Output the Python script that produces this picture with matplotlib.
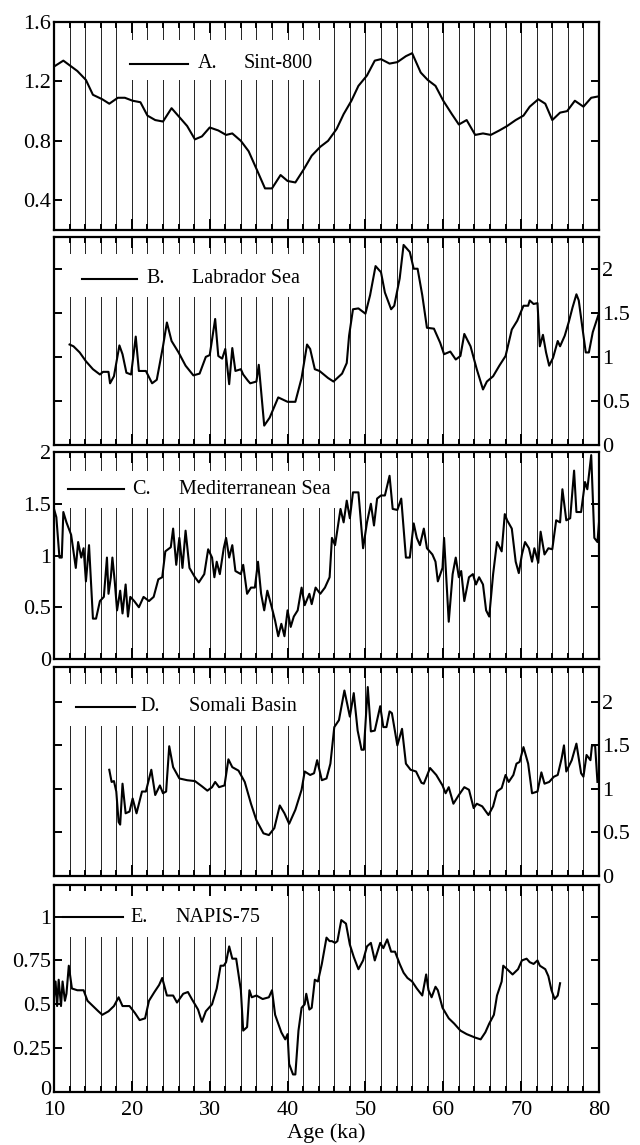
import numpy as np
import matplotlib.pyplot as plt
from matplotlib.patches import Rectangle
from matplotlib.ticker import MultipleLocator, FixedLocator, FormatStrFormatter
from matplotlib.transforms import ScaledTranslation

plt.rcParams['font.family'] = ['Liberation Serif', 'DejaVu Serif']
plt.rcParams['font.size'] = 14

# A. Sint-800
sint_age = [10.0, 11.2, 13.0, 14.1, 15.0, 16.2, 17.1, 18.2, 19.1, 20.1,
            21.1, 22.0, 23.0, 24.0, 25.1, 26.1, 27.1, 28.1, 29.0, 30.0,
            31.1, 32.1, 32.9, 34.0, 35.0, 36.1, 37.1, 38.0, 39.1, 40.0,
            41.0, 42.1, 43.1, 44.2, 45.2, 46.3, 47.2, 48.2, 49.1, 50.2,
            51.2, 52.0, 53.1, 54.1, 55.2, 56.0, 57.1, 58.0, 59.0, 60.0,
            61.1, 62.0, 63.0, 64.1, 65.1, 66.1, 67.2, 68.2, 69.3, 70.3,
            71.1, 72.2, 73.1, 74.0, 75.0, 75.9, 76.9, 78.0, 79.0, 80.0]
sint_val = [1.30, 1.34, 1.27, 1.21, 1.11, 1.08, 1.05, 1.09, 1.09, 1.07,
            1.06, 0.97, 0.94, 0.93, 1.02, 0.96, 0.90, 0.81, 0.83, 0.89,
            0.87, 0.84, 0.85, 0.80, 0.73, 0.60, 0.48, 0.48, 0.57, 0.53,
            0.52, 0.61, 0.70, 0.76, 0.80, 0.88, 0.98, 1.07, 1.17, 1.24,
            1.34, 1.35, 1.32, 1.33, 1.37, 1.39, 1.26, 1.21, 1.17, 1.07,
            0.98, 0.91, 0.94, 0.84, 0.85, 0.84, 0.87, 0.90, 0.94, 0.97,
            1.03, 1.08, 1.05, 0.94, 0.99, 1.00, 1.07, 1.03, 1.09, 1.10]

# B. Labrador Sea
lab_age = [12.0, 12.5, 13.3, 14.1, 15.0, 15.9, 16.3, 17.0, 17.2, 17.7,
           18.4, 18.8, 19.3, 19.9, 20.5, 20.9, 21.8, 22.6, 23.2, 24.0,
           24.5, 25.1, 26.0, 26.9, 27.9, 28.7, 29.5, 30.0, 30.7, 31.1,
           31.6, 32.0, 32.5, 32.9, 33.3, 34.0, 34.3, 34.9, 35.2, 36.0,
           36.3, 37.0, 37.7, 38.8, 40.0, 41.0, 41.8, 42.5, 42.9, 43.5,
           44.1, 45.2, 45.9, 47.0, 47.6, 47.9, 48.4, 49.1, 50.0, 50.6,
           51.3, 52.0, 52.5, 53.3, 53.7, 54.4, 54.9, 55.7, 56.2, 56.7,
           57.3, 57.9, 58.8, 59.6, 60.1, 60.9, 61.6, 62.2, 62.7, 63.5,
           64.3, 65.1, 65.6, 66.4, 67.2, 68.0, 68.8, 69.5, 70.3, 70.9,
           71.1, 71.6, 72.1, 72.4, 72.8, 73.2, 73.6, 74.1, 74.7, 75.0,
           75.6, 76.1, 76.6, 77.1, 77.4, 77.9, 78.3, 78.7, 79.2, 79.9]
lab_val = [1.14, 1.12, 1.05, 0.95, 0.86, 0.80, 0.83, 0.83, 0.70, 0.78,
           1.13, 1.03, 0.82, 0.80, 1.23, 0.84, 0.84, 0.70, 0.74, 1.12,
           1.39, 1.18, 1.05, 0.90, 0.79, 0.81, 1.00, 1.02, 1.43, 1.01,
           0.98, 1.09, 0.69, 1.10, 0.84, 0.86, 0.80, 0.73, 0.70, 0.72,
           0.91, 0.22, 0.31, 0.54, 0.49, 0.49, 0.76, 1.14, 1.09, 0.86,
           0.84, 0.76, 0.72, 0.81, 0.93, 1.24, 1.54, 1.55, 1.49, 1.70,
           2.03, 1.96, 1.73, 1.54, 1.58, 1.89, 2.27, 2.19, 2.00, 2.00,
           1.70, 1.33, 1.32, 1.16, 1.03, 1.06, 0.97, 1.01, 1.26, 1.12,
           0.86, 0.63, 0.72, 0.78, 0.90, 1.01, 1.31, 1.41, 1.58, 1.58,
           1.64, 1.60, 1.61, 1.12, 1.25, 1.05, 0.90, 0.99, 1.18, 1.12,
           1.24, 1.39, 1.56, 1.71, 1.64, 1.31, 1.05, 1.05, 1.28, 1.47]

# C. Mediterranean Sea
med_age = [10.0, 10.3, 10.7, 11.0, 11.2, 11.6, 11.9, 12.2, 12.5, 12.8,
           13.1, 13.5, 13.8, 14.1, 14.5, 14.7, 15.0, 15.4, 15.9, 16.4,
           16.8, 17.0, 17.3, 17.5, 17.8, 18.1, 18.5, 18.8, 19.2, 19.5,
           19.8, 20.3, 20.9, 21.5, 22.2, 22.8, 23.4, 23.9, 24.3, 25.0,
           25.3, 25.7, 26.1, 26.5, 26.9, 27.4, 28.1, 28.6, 29.3, 29.8,
           30.3, 30.6, 30.9, 31.3, 31.8, 32.1, 32.5, 32.9, 33.3, 34.0,
           34.3, 34.8, 35.3, 35.8, 36.2, 36.6, 37.0, 37.4, 37.9, 38.4,
           38.8, 39.2, 39.6, 40.0, 40.4, 40.8, 41.3, 41.8, 42.2, 42.8,
           43.1, 43.6, 44.2, 44.8, 45.4, 45.7, 46.1, 46.8, 47.2, 47.6,
           48.0, 48.4, 49.1, 49.7, 50.2, 50.7, 51.1, 51.5, 52.0, 52.5,
           53.1, 53.5, 54.1, 54.6, 55.2, 55.7, 56.2, 56.6, 57.0, 57.5,
           57.9, 58.6, 59.0, 59.3, 59.9, 60.1, 60.7, 61.2, 61.6, 62.0,
           62.3, 62.7, 63.3, 63.8, 64.2, 64.6, 65.1, 65.5, 65.9, 66.4,
           66.9, 67.5, 67.9, 68.2, 68.8, 69.3, 69.7, 70.1, 70.5, 71.0,
           71.4, 71.7, 72.2, 72.5, 73.0, 73.5, 74.0, 74.5, 75.0, 75.3,
           75.8, 76.3, 76.8, 77.1, 77.7, 78.2, 78.5, 79.0, 79.4, 79.8,
           80.0]
med_val = [1.45, 1.37, 0.98, 0.98, 1.42, 1.32, 1.26, 1.20, 1.04, 0.88,
           1.13, 0.98, 1.07, 0.75, 1.10, 0.82, 0.39, 0.39, 0.56, 0.60,
           0.98, 0.63, 0.79, 0.98, 0.75, 0.47, 0.66, 0.44, 0.72, 0.41,
           0.60, 0.56, 0.50, 0.60, 0.56, 0.60, 0.77, 0.79, 1.04, 1.08,
           1.26, 0.91, 1.17, 0.88, 1.24, 0.88, 0.79, 0.74, 0.82, 1.06,
           0.98, 0.79, 0.94, 0.82, 1.07, 1.17, 0.98, 1.10, 0.85, 0.82,
           0.91, 0.63, 0.69, 0.69, 0.94, 0.63, 0.47, 0.66, 0.52, 0.37,
           0.22, 0.34, 0.22, 0.47, 0.31, 0.41, 0.47, 0.69, 0.52, 0.63,
           0.53, 0.69, 0.63, 0.69, 0.79, 1.17, 1.10, 1.45, 1.32, 1.53,
           1.36, 1.61, 1.61, 1.07, 1.32, 1.50, 1.29, 1.55, 1.58, 1.58,
           1.77, 1.45, 1.44, 1.55, 0.98, 0.98, 1.31, 1.17, 1.10, 1.26,
           1.07, 1.01, 0.94, 0.75, 0.88, 1.17, 0.36, 0.82, 0.98, 0.79,
           0.85, 0.56, 0.79, 0.82, 0.72, 0.79, 0.72, 0.47, 0.41, 0.82,
           1.13, 1.04, 1.40, 1.34, 1.26, 0.94, 0.83, 1.01, 1.13, 1.07,
           0.94, 1.07, 0.93, 1.23, 1.01, 1.07, 1.06, 1.34, 1.32, 1.64,
           1.34, 1.36, 1.82, 1.42, 1.42, 1.71, 1.64, 1.97, 1.17, 1.13,
           1.32]

# D. Somali Basin
som_age = [17.1, 17.4, 17.7, 18.0, 18.3, 18.5, 18.8, 19.2, 19.7, 20.1,
           20.6, 21.3, 21.8, 22.5, 23.0, 23.6, 24.0, 24.4, 24.8, 25.3,
           26.1, 27.1, 28.1, 29.0, 29.7, 30.3, 30.7, 31.2, 31.9, 32.4,
           32.9, 33.7, 34.5, 35.3, 36.0, 36.9, 37.6, 38.3, 39.0, 39.6,
           40.2, 41.0, 41.8, 42.2, 42.9, 43.4, 43.8, 44.4, 45.0, 45.5,
           46.0, 46.6, 47.3, 48.0, 48.5, 49.0, 49.5, 49.8, 50.3, 50.7,
           51.2, 51.9, 52.3, 52.7, 53.1, 53.4, 54.1, 54.7, 55.2, 55.8,
           56.5, 57.2, 57.5, 58.3, 59.1, 59.9, 60.3, 60.7, 61.3, 62.0,
           62.7, 63.3, 63.9, 64.3, 65.0, 65.8, 66.4, 66.9, 67.5, 68.0,
           68.4, 69.0, 69.4, 69.8, 70.3, 70.9, 71.4, 72.1, 72.6, 73.0,
           73.6, 74.2, 74.7, 75.2, 75.5, 75.8, 76.5, 77.1, 77.7, 78.0,
           78.4, 78.9, 79.1, 79.5, 79.8]
som_val = [1.22, 1.08, 1.09, 0.97, 0.62, 0.59, 1.06, 0.72, 0.74, 0.89,
           0.72, 0.97, 0.97, 1.22, 0.93, 1.04, 0.95, 0.97, 1.49, 1.25,
           1.12, 1.10, 1.09, 1.03, 0.98, 1.02, 1.08, 1.02, 1.04, 1.34,
           1.25, 1.21, 1.08, 0.83, 0.64, 0.49, 0.47, 0.55, 0.81, 0.72,
           0.60, 0.76, 0.99, 1.20, 1.16, 1.18, 1.33, 1.10, 1.12, 1.29,
           1.71, 1.79, 2.13, 1.83, 2.10, 1.67, 1.45, 1.45, 2.17, 1.66,
           1.67, 1.95, 1.71, 1.71, 1.89, 1.87, 1.50, 1.69, 1.29, 1.22,
           1.20, 1.07, 1.06, 1.24, 1.16, 1.04, 0.95, 1.02, 0.83, 0.93,
           1.02, 0.99, 0.78, 0.83, 0.80, 0.70, 0.80, 0.97, 1.01, 1.16,
           1.08, 1.16, 1.29, 1.31, 1.48, 1.29, 0.95, 0.97, 1.19, 1.06,
           1.08, 1.14, 1.16, 1.35, 1.50, 1.20, 1.33, 1.52, 1.18, 1.14,
           1.39, 1.33, 1.50, 1.50, 1.08]

# E. NAPIS-75
nap_age = [10.0, 10.2, 10.4, 10.6, 10.9, 11.1, 11.4, 11.6, 11.9, 12.3,
           13.0, 13.8, 14.3, 15.0, 15.7, 16.2, 17.0, 17.7, 18.3, 18.8,
           19.7, 20.4, 21.0, 21.7, 22.2, 22.9, 23.5, 23.9, 24.5, 25.3,
           25.8, 26.6, 27.2, 27.7, 28.5, 29.0, 29.5, 30.3, 30.9, 31.4,
           31.8, 32.1, 32.5, 32.9, 33.4, 34.0, 34.3, 34.8, 35.1, 35.4,
           36.0, 36.8, 37.6, 38.0, 38.4, 39.2, 39.7, 40.0, 40.2, 40.7,
           41.0, 41.4, 41.8, 42.2, 42.4, 42.8, 43.1, 43.5, 43.9, 44.4,
           45.0, 45.4, 45.7, 46.1, 46.4, 46.9, 47.5, 48.0, 48.5, 49.1,
           49.7, 50.2, 50.7, 51.2, 51.9, 52.3, 52.8, 53.3, 53.8, 54.4,
           54.9, 55.4, 56.0, 56.6, 57.3, 57.8, 58.1, 58.5, 59.0, 59.3,
           59.9, 60.7, 61.4, 62.2, 63.0, 64.1, 64.8, 65.4, 65.9, 66.5,
           66.9, 67.5, 67.7, 68.2, 68.9, 69.6, 70.1, 70.7, 71.1, 71.6,
           72.1, 72.4, 73.1, 73.5, 73.9, 74.3, 74.7, 75.0]
nap_val = [0.54, 0.63, 0.49, 0.64, 0.49, 0.63, 0.52, 0.56, 0.72, 0.59,
           0.58, 0.58, 0.52, 0.49, 0.46, 0.44, 0.46, 0.49, 0.54, 0.49,
           0.49, 0.45, 0.41, 0.42, 0.52, 0.57, 0.61, 0.65, 0.55, 0.55,
           0.51, 0.56, 0.57, 0.53, 0.47, 0.40, 0.46, 0.50, 0.59, 0.72,
           0.72, 0.74, 0.83, 0.76, 0.76, 0.58, 0.35, 0.37, 0.58, 0.54,
           0.55, 0.53, 0.54, 0.58, 0.44, 0.34, 0.30, 0.33, 0.16, 0.10,
           0.10, 0.35, 0.48, 0.50, 0.56, 0.47, 0.48, 0.64, 0.63, 0.73,
           0.88, 0.86, 0.86, 0.85, 0.86, 0.98, 0.96, 0.84, 0.77, 0.70,
           0.75, 0.83, 0.85, 0.75, 0.85, 0.82, 0.87, 0.80, 0.80, 0.73,
           0.68, 0.65, 0.63, 0.59, 0.55, 0.67, 0.58, 0.54, 0.60, 0.58,
           0.48, 0.42, 0.39, 0.35, 0.33, 0.31, 0.30, 0.34, 0.39, 0.44,
           0.55, 0.63, 0.72, 0.70, 0.67, 0.70, 0.75, 0.76, 0.74, 0.73,
           0.75, 0.72, 0.70, 0.66, 0.58, 0.53, 0.55, 0.62]

# pixel layout of the stacked panels (top, bottom) in a 640 x 1145 canvas
W, H = 640, 1145
left_px, width_px = 54, 545
rows_px = [(22, 230), (237, 445), (452, 659), (667, 876), (885, 1092)]

panels = [
    dict(age=sint_age, val=sint_val, ylim=(0.2, 1.6),
         yticks=[0.4, 0.8, 1.2, 1.6], side='left',
         letter='A.', name='Sint-800',
         box=(0.118, 0.72, 0.514, 0.913), line=(0.14, 0.245), ky=0.80,
         lx=0.264, nx=0.348),
    dict(age=lab_age, val=lab_val, ylim=(0, 2.36),
         yticks=[0, 0.5, 1, 1.5, 2], side='right',
         letter='B.', name='Labrador Sea',
         box=(0.02, 0.71, 0.48, 0.92), line=(0.051, 0.152), ky=0.80,
         lx=0.170, nx=0.253),
    dict(age=med_age, val=med_val, ylim=(0, 2.0),
         yticks=[0, 0.5, 1, 1.5, 2], side='left',
         letter='C.', name='Mediterranean Sea',
         box=(0.0, 0.73, 0.54, 0.91), line=(0.025, 0.129), ky=0.82,
         lx=0.144, nx=0.230),
    dict(age=som_age, val=som_val, ylim=(0, 2.4),
         yticks=[0, 0.5, 1, 1.5, 2], side='right',
         letter='D.', name='Somali Basin',
         box=(0.006, 0.72, 0.48, 0.92), line=(0.040, 0.148), ky=0.81,
         lx=0.159, nx=0.247),
    dict(age=nap_age, val=nap_val, ylim=(0, 1.18),
         yticks=[0, 0.25, 0.5, 0.75, 1], side='left',
         letter='E.', name='NAPIS-75',
         box=(0.0, 0.75, 0.425, 1.0), line=(0.017, 0.126), ky=0.845,
         lx=0.140, nx=0.223),
]

fig = plt.figure(figsize=(W / 100, H / 100), dpi=100)

for i, (p, (top, bot)) in enumerate(zip(panels, rows_px)):
    ax = fig.add_axes([left_px / W, 1 - bot / H, width_px / W, (bot - top) / H])

    # thin vertical lines every 2 ka
    ax.vlines(np.arange(12, 80, 2), 0, 1, transform=ax.get_xaxis_transform(),
              color='#222222', lw=0.7, zorder=1)

    # white key box with sample line
    x0, y0, x1, y1 = p['box']
    ax.add_patch(Rectangle((x0, y0), x1 - x0, y1 - y0, transform=ax.transAxes,
                           facecolor='white', edgecolor='none', zorder=1.2))
    ax.plot(p['line'], [p['ky'], p['ky']], transform=ax.transAxes,
            color='k', lw=1.5, zorder=3)
    ax.text(p['lx'], p['ky'], p['letter'], transform=ax.transAxes,
            ha='left', va='center', fontsize=14.5, zorder=3)
    ax.text(p['nx'], p['ky'], p['name'], transform=ax.transAxes,
            ha='left', va='center', fontsize=14.5, zorder=3)

    ax.plot(p['age'], p['val'], color='k', lw=1.5, zorder=2)

    ax.set_xlim(10, 80)
    ax.set_ylim(*p['ylim'])
    ax.xaxis.set_major_locator(MultipleLocator(10))
    ax.xaxis.set_minor_locator(MultipleLocator(2))
    ax.yaxis.set_major_locator(FixedLocator(p['yticks']))
    ax.yaxis.set_major_formatter(FormatStrFormatter('%g'))

    last = i == len(panels) - 1
    ax.tick_params(axis='x', which='both', direction='in', top=True, bottom=True,
                   labelbottom=last, width=1.4, labelsize=16, pad=6.5)
    ax.tick_params(axis='x', which='major', length=8)
    ax.tick_params(axis='x', which='minor', length=4.5)
    ax.tick_params(axis='y', which='both', direction='in', left=True, right=True,
                   labelleft=p['side'] == 'left', labelright=p['side'] == 'right',
                   length=5.5, width=1.4, labelsize=16, pad=2)
    for s in ax.spines.values():
        s.set_linewidth(1.6)

    if last:
        ax.set_xlabel('Age (ka)', fontsize=16, labelpad=2)
        # lift the bottom "0" a touch so it clears the "10" below it
        zero = ax.yaxis.get_major_ticks()[0].label1
        zero.set_transform(zero.get_transform()
                           + ScaledTranslation(0, 3 / 72, fig.dpi_scale_trans))

fig.savefig('out.png', dpi=100)
